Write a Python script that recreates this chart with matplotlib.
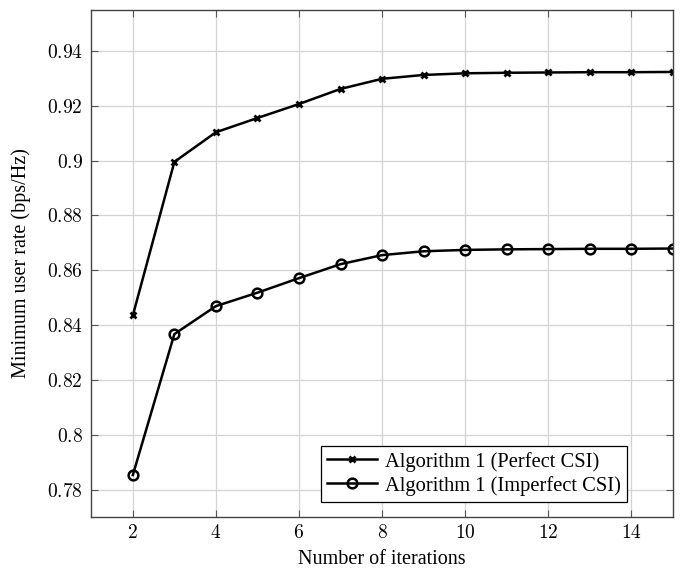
import numpy as np
import matplotlib
matplotlib.use("Agg")
import matplotlib.pyplot as plt
from matplotlib.ticker import FuncFormatter

plt.rcParams['font.family'] = ['Liberation Serif', 'DejaVu Serif']
plt.rcParams['mathtext.fontset'] = 'cm'

# data
iterations = [2, 3, 4, 5, 6, 7, 8, 9, 10, 11, 12, 13, 14, 15]
rate_perfect = [0.8435, 0.8995, 0.9103, 0.9155, 0.9206, 0.9261, 0.9298, 0.9312,
                0.9318, 0.9320, 0.9321, 0.9322, 0.9322, 0.9323]
rate_imperfect = [0.7853, 0.8367, 0.8469, 0.8518, 0.8571, 0.8622, 0.8655, 0.8669,
                  0.8674, 0.8676, 0.8677, 0.8678, 0.8678, 0.8679]
x_ticks = [2, 4, 6, 8, 10, 12, 14]
y_ticks = [0.78, 0.80, 0.82, 0.84, 0.86, 0.88, 0.90, 0.92, 0.94]

fig = plt.figure(figsize=(6.89, 5.70), dpi=100)
ax = fig.add_axes([0.1325, 0.093, 0.844, 0.890])

ax.plot(iterations, rate_perfect, color='black', lw=1.8, marker='x', ms=5,
        mew=2.0, label='Algorithm 1 (Perfect CSI)')
ax.plot(iterations, rate_imperfect, color='black', lw=1.8, marker='o', ms=7,
        mfc='none', mew=1.8, label='Algorithm 1 (Imperfect CSI)')

ax.set_xlim(1, 15)
ax.set_ylim(0.77, 0.955)
ax.set_xticks(x_ticks)
ax.set_yticks(y_ticks)
fmt = FuncFormatter(lambda v, p: r'$%g$' % round(v, 3))
ax.xaxis.set_major_formatter(fmt)
ax.yaxis.set_major_formatter(fmt)
ax.tick_params(direction='in', top=True, right=True, labelsize=14, length=5,
               color='#555555')
ax.tick_params(axis='y', pad=6)
ax.tick_params(axis='x', pad=5)
ax.grid(True, color='#d3d3d3', lw=0.9)
ax.set_axisbelow(True)
for s in ax.spines.values():
    s.set_color('#444444')
    s.set_linewidth(1.0)

ax.set_xlabel('Number of iterations', fontsize=14.5, labelpad=6)
ax.set_ylabel('Minimum user rate (bps/Hz)', fontsize=14.5)
ax.yaxis.set_label_coords(-0.103, 0.5)

leg = ax.legend(loc='lower right', bbox_to_anchor=(0.921, 0.030), fontsize=14.8,
                frameon=True, fancybox=False, edgecolor='black', framealpha=1,
                handlelength=2.4, borderpad=0.3, labelspacing=0.2,
                handletextpad=0.4, borderaxespad=0)
leg.get_frame().set_linewidth(0.9)

fig.savefig('out.png', dpi=100)
